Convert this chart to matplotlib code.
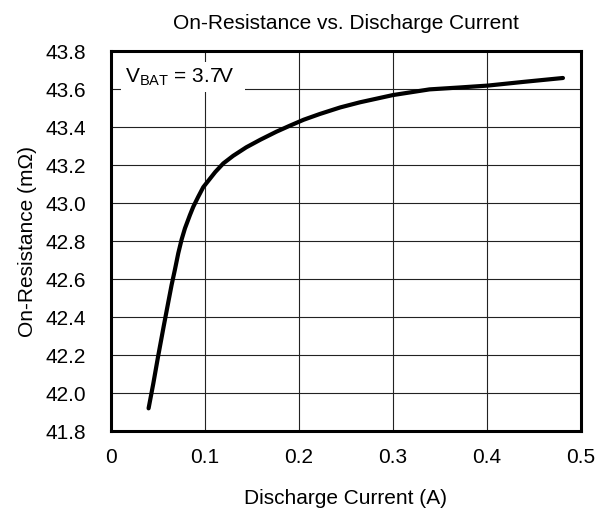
import matplotlib

matplotlib.use("Agg")
import matplotlib.pyplot as plt
import numpy as np

# values
current = [0.040, 0.045, 0.050, 0.056, 0.061, 0.0645, 0.068, 0.0716, 0.0752, 0.0787,
           0.084, 0.0876, 0.0929, 0.0982, 0.111, 0.1195, 0.130, 0.144, 0.159, 0.176,
           0.190, 0.205, 0.222, 0.244, 0.265, 0.300, 0.339, 0.371, 0.401, 0.440, 0.481]
resistance = [41.92, 42.05, 42.19, 42.35, 42.48, 42.57, 42.65, 42.737, 42.81, 42.868,
              42.938, 42.982, 43.035, 43.085, 43.165, 43.21, 43.25, 43.295, 43.335, 43.377,
              43.408, 43.44, 43.47, 43.505, 43.532, 43.57, 43.60, 43.61, 43.62, 43.64, 43.66]
x_ticks = [0, 0.1, 0.2, 0.3, 0.4, 0.5]
x_labels = ["0", "0.1", "0.2", "0.3", "0.4", "0.5"]
y_ticks = np.round(np.arange(41.8, 43.81, 0.2), 1)

plt.rcParams["font.family"] = "Liberation Sans"
plt.rcParams["mathtext.fontset"] = "custom"
plt.rcParams["mathtext.rm"] = "Liberation Sans"

fig = plt.figure(figsize=(6.0, 5.09), dpi=100)
ax = fig.add_axes([0.185, 0.153, 0.783, 0.746])

ax.plot(current, resistance, color="black", linewidth=3, solid_capstyle="round",
        solid_joinstyle="round", zorder=3)

ax.set_xlim(0, 0.5)
ax.set_ylim(41.8, 43.8)
ax.set_xticks(x_ticks)
ax.set_xticklabels(x_labels)
ax.set_yticks(y_ticks)
ax.set_yticklabels([f"{v:.1f}" for v in y_ticks])
ax.tick_params(axis="y", length=0, labelsize=15, pad=18)
ax.tick_params(axis="x", length=0, labelsize=15, pad=12)
ax.grid(True, color="#222222", linewidth=0.8)
for spine in ax.spines.values():
    spine.set_linewidth(2.2)

ax.set_title("On-Resistance vs. Discharge Current", fontsize=15, pad=16)
ax.set_xlabel("Discharge Current (A)", fontsize=15, labelpad=16)
ax.set_ylabel("On-Resistance (m\u03a9)", fontsize=15, labelpad=6)

ax.text(0.015, 43.665, r"V$_{\mathrm{BAT}}$ = 3.7V  ", fontsize=15, va="center", ha="left",
        bbox=dict(facecolor="white", edgecolor="none", pad=3), zorder=4)

fig.savefig("out.png", dpi=100)
